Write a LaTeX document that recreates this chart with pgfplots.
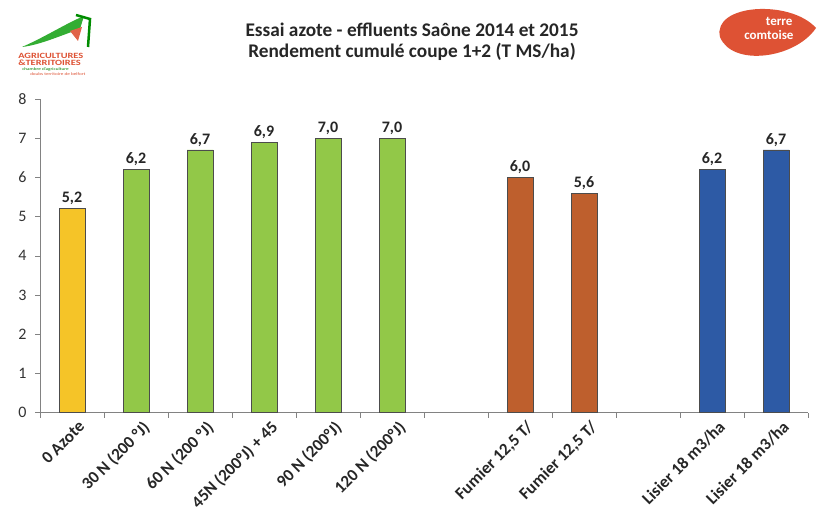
\documentclass[border=0pt]{standalone}
\usepackage{fontspec}
\setmainfont{Carlito}
\usepackage{pgfplots}
\pgfplotsset{compat=1.18}
\definecolor{cyel}{RGB}{245,196,40}
\definecolor{cgreen}{RGB}{146,200,72}
\definecolor{cbrown}{RGB}{190,95,45}
\definecolor{cblue}{RGB}{45,90,165}
\definecolor{cred}{RGB}{222,82,52}
\definecolor{axgray}{RGB}{130,130,130}
\begin{document}
\begin{tikzpicture}
\useasboundingbox[fill=white] (0pt,0pt) rectangle (819pt,519pt);
% title
\node[font=\bfseries\fontsize{19.3}{19.3}\selectfont, text=black!85] at (412pt,489pt) {Essai azote - effluents Saône 2014 et 2015};
\node[font=\bfseries\fontsize{19.3}{19.3}\selectfont, text=black!85] at (412pt,467pt) {Rendement cumulé coupe 1+2 (T MS/ha)};
% logo right
\fill[cred] (816pt,491pt) .. controls (795pt,460pt) and (732pt,452pt) .. (720pt,482pt) .. controls (712pt,515pt) and (790pt,520pt) .. (816pt,491pt);
\node[font=\bfseries\fontsize{13}{13}\selectfont, text=white, anchor=east] at (796pt,498pt) {terre};
\node[font=\bfseries\fontsize{13}{13}\selectfont, text=white, anchor=east] at (797pt,484pt) {comtoise};
% logo left
\fill[green!60!black!80] (22pt,472pt) .. controls (45pt,482pt) and (65pt,495pt) .. (84pt,503pt) -- (80pt,490pt) .. controls (62pt,484pt) and (40pt,474pt) .. (22pt,472pt);
\draw[green!55!black, line width=2.5pt] (76pt,504pt) -- (90pt,500pt) -- (88pt,472pt);
\fill[cred!90] (70pt,488pt) -- (82pt,492pt) -- (78pt,478pt) -- cycle;
\node[font=\bfseries\fontsize{8}{8}\selectfont, text=cred, anchor=west, inner sep=0, xscale=1.3] at (18pt,463pt) {AGRICULTURES};
\node[font=\bfseries\fontsize{8}{8}\selectfont, text=cred, anchor=west, inner sep=0, xscale=1.3] at (18pt,456pt) {\&TERRITOIRES};
\node[font=\fontsize{4}{4}\selectfont, text=green!50!black, anchor=west, inner sep=0, xscale=1.3] at (22pt,450pt) {chambre d'agriculture};
\node[font=\fontsize{4}{4}\selectfont, text=cred, anchor=west, inner sep=0, xscale=1.3] at (30pt,445pt) {doubs territoire de belfort};
\begin{axis}[
  at={(40pt,106.3pt)}, anchor=south west,
  scale only axis, width=768pt, height=313.7pt,
  xmin=-0.5, xmax=11.5, ymin=0, ymax=8,
  axis lines=left, axis line style={-, draw=axgray, line width=0.8pt},
  ytick={0,...,8},
  xtick={0,1,2,3,4,5,7,8,10,11},
  xticklabels={0 Azote,30 N (200 °J),60 N (200 °J),45N (200°J) + 45,90 N (200°J),120 N (200°J),Fumier 12{,}5 T/,Fumier 12{,}5 T/,Lisier 18 m3/ha,Lisier 18 m3/ha},
  major x tick style={draw=none},
  minor xtick={-0.5,0.5,...,11.5},
  minor x tick style={draw=axgray, line width=0.6pt},
  minor tick length=5pt,
  major tick length=5pt,
  tick align=outside,
  y tick style={draw=axgray, line width=0.6pt},
  /pgf/number format/assume math mode=true,
  yticklabel style={font=\fontsize{16}{16}\selectfont, text=black!80, xshift=-5pt},
  xticklabel style={font=\bfseries\fontsize{17}{17}\selectfont, text=black!85, rotate=45, anchor=north east, xshift=6pt, yshift=-2pt},
  ybar, bar width=26pt,
  nodes near coords,
  point meta=y,
  nodes near coords style={font=\bfseries\fontsize{16}{16}\selectfont, text=black!85, /pgf/number format/.cd, use comma, fixed, fixed zerofill, precision=1},
  clip=false,
]
\addplot[bar shift=0pt, fill=cyel, draw=black!70, line width=0.8pt] coordinates {(0,5.2)};
\addplot[bar shift=0pt, fill=cgreen, draw=black!70, line width=0.8pt] coordinates {(1,6.2) (2,6.7) (3,6.9) (4,7.0) (5,7.0)};
\addplot[bar shift=0pt, fill=cbrown, draw=black!70, line width=0.8pt] coordinates {(7,6.0) (8,5.6)};
\addplot[bar shift=0pt, fill=cblue, draw=black!70, line width=0.8pt] coordinates {(10,6.2) (11,6.7)};
\end{axis}
\end{tikzpicture}
\end{document}
